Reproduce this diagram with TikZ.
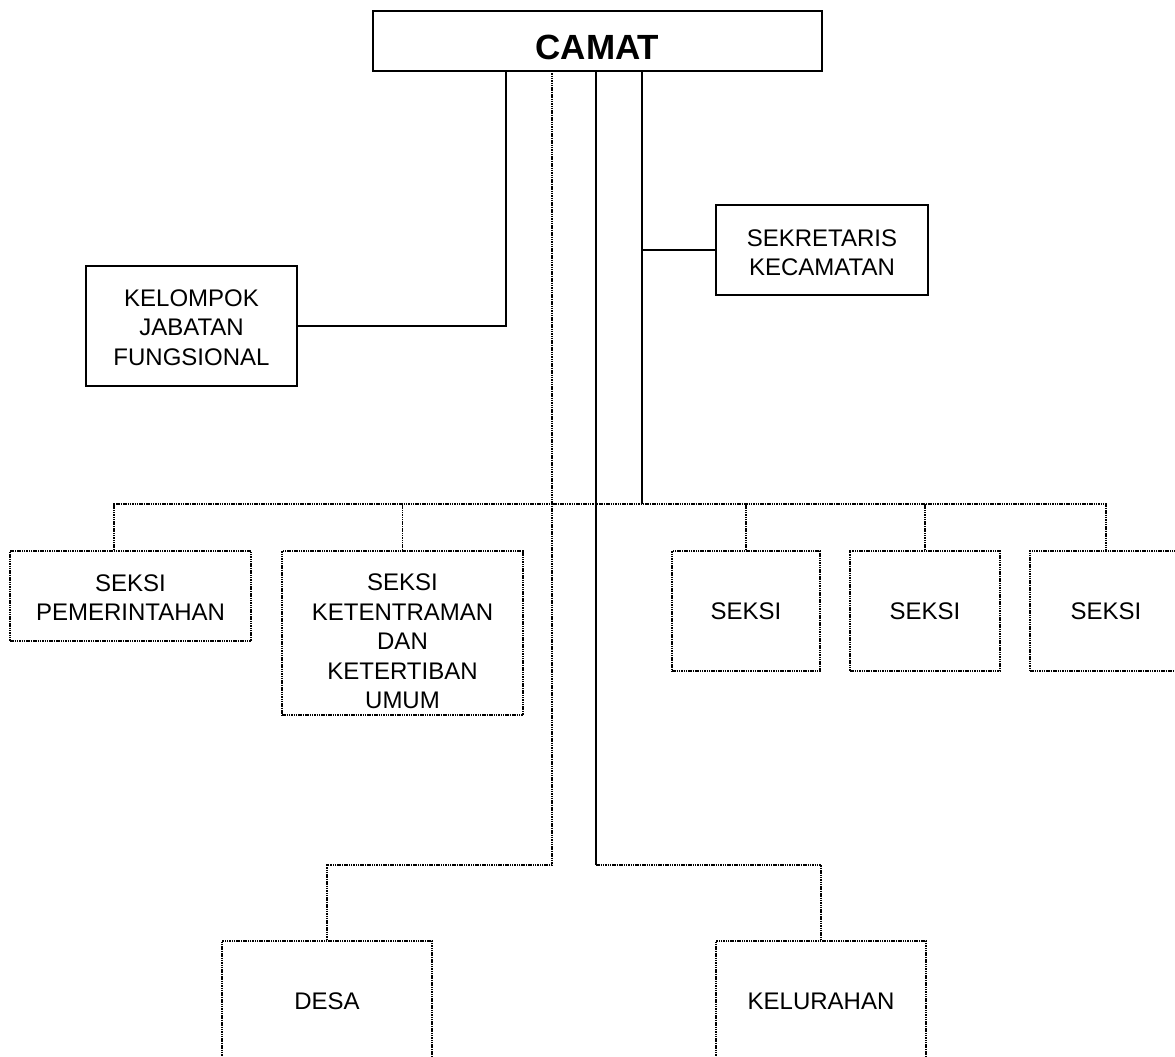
\documentclass[tikz,border=0pt]{standalone}
\usepackage{fontspec}
\setmainfont{Liberation Sans}
\begin{document}
\begin{tikzpicture}[x=1pt,y=-1pt,
  boxbase/.style={rectangle,inner sep=0pt,align=center,font=\fontsize{24}{29.5}\selectfont},
  solidbox/.style={boxbase,draw,line width=1.5pt},
  dotbox/.style={boxbase,draw,line width=1.6pt,dash pattern=on 1.5pt off 0.8pt},
  conn/.style={line width=1.6pt},
  dotconn/.style={line width=1.6pt,dash pattern=on 1.5pt off 0.8pt}]
\clip (0,0) rectangle (1175,1057);
\fill[white] (0,0) rectangle (1175,1057);

% boxes
\node[solidbox,minimum width=449pt,minimum height=60pt,text height=37pt,text depth=0pt,
      font=\fontsize{35}{40}\selectfont\bfseries] (camat) at (597.5,41) {CAMAT};
\node[solidbox,minimum width=211pt,minimum height=120pt] (kjf) at (191.5,326) {\rule{0pt}{20pt}KELOMPOK\\JABATAN\\FUNGSIONAL};
\node[solidbox,minimum width=212pt,minimum height=90pt] (sek) at (822,250) {\rule{0pt}{22pt}SEKRETARIS\\KECAMATAN};

\node[dotbox,minimum width=241pt,minimum height=90pt] (pem) at (130.5,596) {\rule{0pt}{20pt}SEKSI\\PEMERINTAHAN};
\node[dotbox,minimum width=241pt,minimum height=164pt] (ket) at (402.5,633) {\rule{0pt}{34pt}SEKSI\\KETENTRAMAN\\DAN\\KETERTIBAN\\UMUM};
\node[dotbox,minimum width=148pt,minimum height=120pt] (s1) at (746,611) {SEKSI};
\node[dotbox,minimum width=150pt,minimum height=120pt] (s2) at (925,611) {SEKSI};
\node[dotbox,minimum width=152pt,minimum height=120pt] (s3) at (1106,611) {SEKSI};
\node[dotbox,minimum width=210pt,minimum height=120pt] (desa) at (327,1001) {DESA};
\node[dotbox,minimum width=210pt,minimum height=120pt] (kel) at (821,1001) {KELURAHAN};

% junction coordinates
\coordinate (c1) at (506,71);
\coordinate (c2) at (552,71);
\coordinate (c3) at (596,71);
\coordinate (c4) at (642,71);
\coordinate (hL) at (114,504);
\coordinate (hR) at (1106,504);
\coordinate (jd) at (327,865);
\coordinate (jk) at (821,865);

% connectors
\draw[conn] (c1) |- (kjf.east);
\draw[conn] (c4) -- (c4 |- hL);
\draw[conn] (c4 |- sek.west) -- (sek.west);
\draw[dotconn] (c2) -- (c2 |- jd) -- (jd) -- (desa.north);
\draw[conn] (c3) -- (c3 |- jk);
\draw[dotconn] (c3 |- jk) -- (jk) -- (kel.north);

\draw[dotconn] (pem.north -| hL) -- (hL) -- (hR) -- (s3.north);
\draw[dotconn] (ket.north) -- (ket.north |- hL);
\draw[dotconn] (s1.north) -- (s1.north |- hL);
\draw[dotconn] (s2.north) -- (s2.north |- hL);
\end{tikzpicture}
\end{document}
